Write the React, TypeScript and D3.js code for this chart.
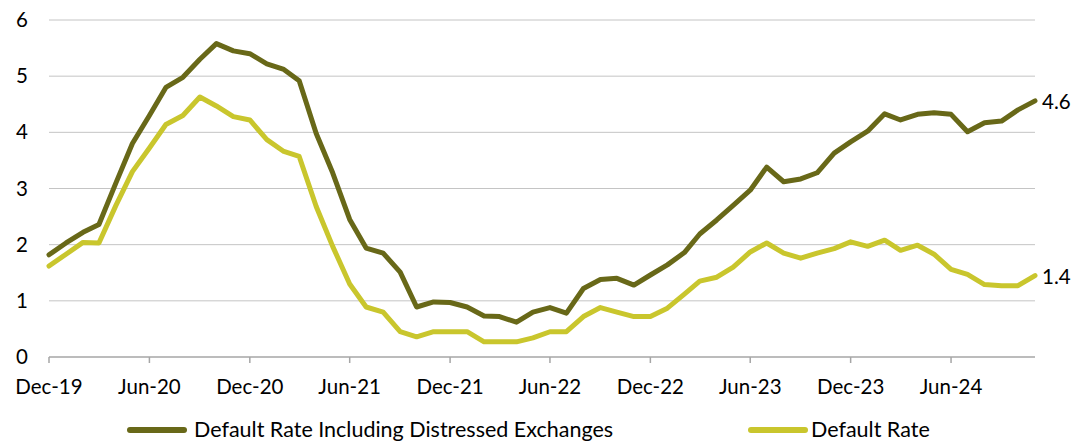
import React from 'react';
import * as d3 from 'd3';

const months = d3.range(60).map((i) => new Date(2019, 11 + i, 1));

const distressed = [
  1.82, 2.03, 2.22, 2.36, 3.1, 3.8, 4.3, 4.8, 4.98, 5.3,
  5.58, 5.45, 5.4, 5.22, 5.12, 4.92, 3.98, 3.28, 2.45, 1.94,
  1.85, 1.51, 0.89, 0.98, 0.97, 0.89, 0.73, 0.72, 0.62, 0.8,
  0.88, 0.78, 1.22, 1.38, 1.4, 1.28, 1.46, 1.64, 1.86, 2.19,
  2.44, 2.7, 2.97, 3.38, 3.12, 3.17, 3.28, 3.63, 3.83, 4.02,
  4.33, 4.22, 4.32, 4.35, 4.32, 4.01, 4.17, 4.2, 4.4, 4.56,
];

const defaultRate = [
  1.62, 1.83, 2.04, 2.03, 2.7, 3.3, 3.72, 4.14, 4.3, 4.63,
  4.47, 4.28, 4.22, 3.87, 3.66, 3.57, 2.68, 1.97, 1.3, 0.89,
  0.8, 0.45, 0.36, 0.45, 0.45, 0.45, 0.27, 0.27, 0.27, 0.34,
  0.45, 0.45, 0.72, 0.88, 0.8, 0.72, 0.72, 0.87, 1.12, 1.35,
  1.42, 1.6, 1.87, 2.03, 1.85, 1.76, 1.85, 1.93, 2.05, 1.97,
  2.08, 1.9, 1.99, 1.83, 1.56, 1.47, 1.29, 1.27, 1.27, 1.45,
];

const yTicks = [0, 1, 2, 3, 4, 5, 6];
const seriesNames = ['Default Rate Including Distressed Exchanges', 'Default Rate'];
const endLabels = ['4.6', '1.4'];

const W = 1085;
const H = 442;
const colors = ['#686818', '#c9c62d'];
const font = 'Lato, "Open Sans", sans-serif';
const fs = 20.5;

export default function App() {
  const x = d3.scaleTime()
    .domain([months[0], months[months.length - 1]])
    .range([49, 1035]);
  const y = d3.scaleLinear().domain([0, 6]).range([357, 20]);

  const xTicks = months.filter((d, i) => i % 6 === 0);
  const fmt = d3.timeFormat('%b-%y');

  const line = d3.line<number>()
    .x((d, i) => x(months[i]))
    .y((d) => y(d));

  const series = [distressed, defaultRate];

  return (
    <svg width={W} height={H} style={{ position: 'absolute', left: 0, top: 0 }} fontFamily={font}>
      {yTicks.map((t) => (
        <g key={t}>
          {t > 0 && <line x1={49} x2={1035} y1={y(t)} y2={y(t)} stroke="#c4c4c4" strokeWidth={1} />}
          <text x={28} y={y(t) + 7} textAnchor="end" fontSize={fs} fill="#000">{t}</text>
        </g>
      ))}
      <line x1={49} x2={1035} y1={y(0)} y2={y(0)} stroke="#a6a6a6" strokeWidth={1.5} />
      {xTicks.map((d) => (
        <g key={+d}>
          <line x1={x(d)} x2={x(d)} y1={y(0)} y2={y(0) + 6} stroke="#a6a6a6" strokeWidth={1.5} />
          <text x={x(d)} y={394} textAnchor="middle" fontSize={fs} fill="#000">{fmt(d)}</text>
        </g>
      ))}
      {series.map((s, k) => (
        <path key={k} d={line(s) || ''} fill="none" stroke={colors[k]} strokeWidth={5} strokeLinejoin="round" strokeLinecap="round" />
      ))}
      {series.map((s, k) => (
        <text key={k} x={x(months[months.length - 1]) + 7} y={y(s[s.length - 1]) + 8} fontSize={fs} fill="#000">{endLabels[k]}</text>
      ))}
      {seriesNames.map((n, k) => {
        const lx = k === 0 ? 130 : 751;
        return (
          <g key={n}>
            <line x1={lx} x2={lx + 54} y1={430} y2={430} stroke={colors[k]} strokeWidth={6} strokeLinecap="round" />
            <text x={lx + 64 - (k === 1 ? 4 : 0)} y={437} fontSize={21.5} fill="#000">{n}</text>
          </g>
        );
      })}
    </svg>
  );
}
